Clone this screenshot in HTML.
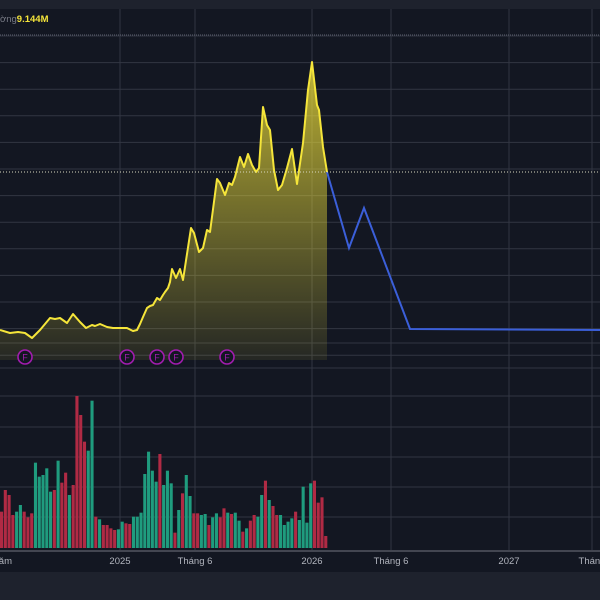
<!DOCTYPE html>
<html><head><meta charset="utf-8"><style>
html,body{margin:0;padding:0;background:#131722;}
svg{display:block;font-family:"Liberation Sans",sans-serif;}
</style></head><body>
<svg width="600" height="600" viewBox="0 0 600 600">
<defs>
<linearGradient id="fillG" x1="0" y1="60" x2="0" y2="360" gradientUnits="userSpaceOnUse">
<stop offset="0" stop-color="#f5e53a" stop-opacity="0.75"/>
<stop offset="1" stop-color="#f5e53a" stop-opacity="0.08"/>
</linearGradient>
</defs>
<rect x="0" y="0" width="600" height="600" fill="#131722"/>
<rect x="0" y="0" width="600" height="9" fill="#1e222d"/>
<g id="grid"></g>
<path id="area" fill="url(#fillG)"/>
<polyline id="priceLine" fill="none" stroke="#f5e53a" stroke-width="2" stroke-linejoin="round"/>
<polyline id="forecastLine" fill="none" stroke="#3b5fd9" stroke-width="2"/>
<line x1="0" y1="172" x2="600" y2="172" stroke="#d8d8c0" stroke-width="1" stroke-dasharray="1,2"/>
<line x1="0" y1="35" x2="600" y2="35" stroke="#5d6270" stroke-width="1" stroke-dasharray="1,1"/>
<g id="vol"></g>
<g id="fmarks"></g>
<line x1="0" y1="551" x2="600" y2="551" stroke="#434651" stroke-width="2"/>
<g id="xlabels"></g>
<rect x="0" y="572" width="600" height="28" fill="#1e222d"/>
<text x="0" y="22" font-size="9.5" fill="#787b86">ờng<tspan fill="#f5e53a" font-weight="bold">9.144M</tspan></text>
</svg>
<script>
const priceX=[0,10,18,25,32,40,50,55,60,67,73,80,86,92,95,100,107,113,120,127,133,137,140,143,147,150,153,157,160,163,165,168,170,172,176,180,183,191,194,199,203,207,210,217,220,225,229,232,235,240,244,248,252,256,259,263,267,270,274,278,282,287,292,297,303,308,312,317,319,323,327];
const priceY=[330,333,332,333,338,330,318,319,318,323,314,322,328,325,326,324,327,328,328,328,331,330,324,317,308,306,305,298,300,295,292,288,282,269,278,269,280,228,233,252,248,230,232,179,183,195,183,185,177,157,167,154,165,172,168,107,125,130,170,190,185,168,149,184,143,90,62,105,110,147,172];
const fcX=[327,349,364,410,600];
const fcY=[172,248,208,329,330];
const volSide=["r","r","r","r","g","g","r","r","r","g","g","g","g","g","r","g","r","r","g","r","r","r","r","g","g","r","g","r","r","r","r","g","g","r","r","g","g","g","g","g","g","g","r","g","g","g","r","g","r","g","g","r","r","g","g","r","g","g","r","r","g","r","g","g","r","g","r","r","g","g","r","g","r","r","g","g","g","g","r","g","g","g","g","r","r","r","r"];
const volTop=[395,330,345,405,395,375,395,412,400,248,290,285,265,335,330,242,308,278,345,315,48,105,185,212,62,410,418,435,435,445,450,448,425,430,432,410,410,398,282,215,272,305,222,315,272,310,458,390,340,285,348,400,400,405,402,435,412,400,412,385,398,402,398,422,455,445,422,405,410,345,302,360,378,405,405,435,425,415,395,420,320,428,310,302,368,352,468];
const xLabels=["năm","2025","Tháng 6","2026","Tháng 6","2027","Tháng"];
const xLabelPos=[0,120,195,312,391,509,592];
const fDates=[25,127,157,176,227];
const NS="http://www.w3.org/2000/svg";
function mk(t,a,p){const e=document.createElementNS(NS,t);for(const k in a)e.setAttribute(k,a[k]);p.appendChild(e);return e;}
const grid=document.getElementById('grid');
for(let i=0;i<13;i++){const y=36+i*26.6;const l=mk('line',{x1:0,x2:600,y1:y,y2:y,stroke:'#323642','stroke-width':1},grid);

}
[343,368,396,427,457,487,517].forEach(y=>{const l=mk('line',{x1:0,x2:600,y1:y,y2:y,stroke:'#323642','stroke-width':1},grid);

});
xLabelPos.slice(1).forEach(x=>{const l=mk('line',{x1:x,x2:x,y1:9,y2:550,stroke:'#323642','stroke-width':1},grid);

});
const pts=priceX.map((x,i)=>x+','+priceY[i]).join(' ');
document.getElementById('priceLine').setAttribute('points',pts);
document.getElementById('area').setAttribute('d','M0,360 L'+priceX.map((x,i)=>x+','+priceY[i]).join(' L')+' L327,360 Z');
document.getElementById('forecastLine').setAttribute('points',fcX.map((x,i)=>x+','+fcY[i]).join(' '));
const vol=document.getElementById('vol');const base=548;
volTop.forEach((z,i)=>{const h=(504-z)/3;const x=i*3.77;
const r=mk('rect',{x:x,y:base-h,width:3.1,height:h,fill:volSide[i]==='g'?'#1f9c7e':'#b02a44'},vol);

});
const fm=document.getElementById('fmarks');
fDates.forEach(x=>{const g=mk('g',{},fm);


mk('circle',{cx:x,cy:357,r:7,fill:'#131722',stroke:'#a21caf','stroke-width':1.6},g);
const t=mk('text',{x:x,y:360.5,'font-size':9,fill:'#a21caf','text-anchor':'middle'},g);t.textContent='F';});
const xl=document.getElementById('xlabels');
xLabels.forEach((s,i)=>{const t=mk('text',{x:xLabelPos[i],y:564,'font-size':9.5,fill:'#b2b5be','text-anchor':i===0?'end':'middle'},xl);
if(i===0){t.setAttribute('x',12);}


t.textContent=s;});
</script>
</body></html>
